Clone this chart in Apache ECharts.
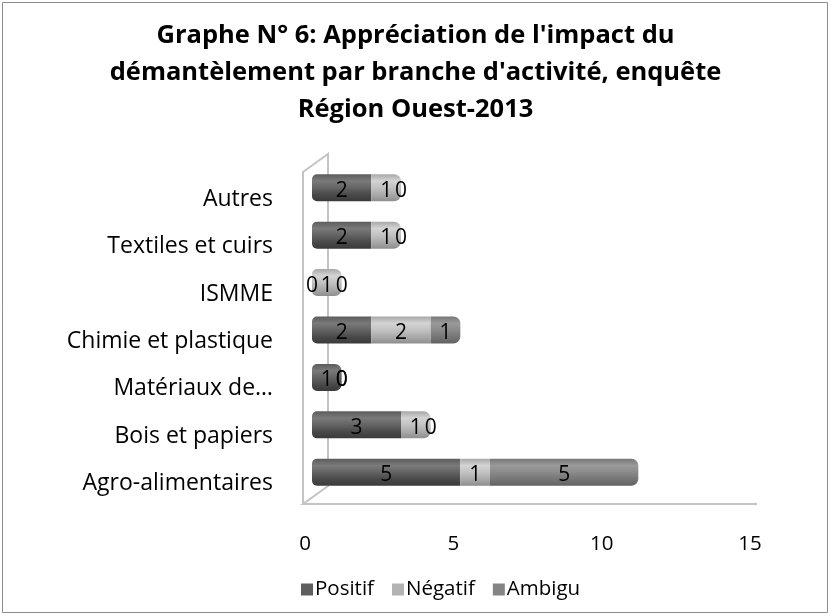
<!DOCTYPE html>
<html>
<head>
<meta charset="utf-8">
<script src="https://cdn.jsdelivr.net/npm/echarts@6/dist/echarts.min.js"></script>
<style>
  html, body { margin: 0; padding: 0; background: #fff; }
  #main { width: 831px; height: 616px; }
</style>
</head>
<body>
<div id="main"></div>
<script>
// branches, from bottom to top
const categories = ['Agro-alimentaires', 'Bois et papiers', 'Matériaux de…', 'Chimie et plastique', 'ISMME', 'Textiles et cuirs', 'Autres'];
const positif = [5, 3, 1, 2, 0, 2, 2];
const negatif = [1, 1, 0, 2, 1, 1, 1];
const ambigu = [5, 0, 0, 1, 0, 0, 0];
const seriesNames = ['Positif', 'Négatif', 'Ambigu'];
const xTicks = [0, 5, 10, 15];

const FONT = 'Open Sans';

// cylinder shading
function cyl(stops) {
  return {
    type: 'linear', x: 0, y: 0, x2: 0, y2: 1,
    colorStops: stops.map((c, i) => ({ offset: i / (stops.length - 1), color: c }))
  };
}
const fills = [
  cyl(['#5c5c5c', '#7a7a7a', '#646464', '#4a4a4a', '#3a3a3a']),
  cyl(['#a8a8a8', '#d4d4d4', '#c2c2c2', '#aaaaaa', '#8e8e8e']),
  cyl(['#777777', '#9a9a9a', '#8a8a8a', '#767676', '#626262'])
];
const legendColors = ['#5e5e5e', '#b3b3b3', '#848484'];

const allData = [positif, negatif, ambigu];

// last non-zero segment gets the rounded end cap
function lastIdx(ci) {
  let last = -1;
  allData.forEach((arr, si) => { if (arr[ci] > 0) last = si; });
  return last;
}
function firstIdx(ci) {
  for (let si = 0; si < allData.length; si++) if (allData[si][ci] > 0) return si;
  return -1;
}

const series = allData.map((arr, si) => ({
  name: seriesNames[si],
  type: 'bar',
  stack: 'total',
  barWidth: 27,
  data: arr.map((v, ci) => {
    const r = [0, 0, 0, 0];
    if (firstIdx(ci) === si) { r[0] = 5; r[3] = 5; }
    if (lastIdx(ci) === si) { r[1] = 7; r[2] = 7; }
    return { value: v, itemStyle: { borderRadius: r } };
  }),
  itemStyle: { color: fills[si] },
  label: {
    show: true,
    position: 'inside',
    color: '#000',
    fontFamily: FONT,
    fontSize: 21,
    offset: [0, 3],
    formatter: '{c}'
  },
  emphasis: { disabled: true }
}));

const chart = echarts.init(document.getElementById('main'));
chart.setOption({
  animation: false,
  backgroundColor: '#fff',
  title: {
    text: "Graphe N° 6: Appréciation de l'impact du\ndémantèlement par branche d'activité, enquête\nRégion Ouest-2013",
    left: 'center',
    top: 12,
    textStyle: { fontFamily: FONT, fontSize: 25.5, fontWeight: 'bold', color: '#000', lineHeight: 37 }
  },
  legend: {
    bottom: 11,
    left: 296,
    itemWidth: 12,
    itemHeight: 12,
    itemGap: 18,
    icon: 'rect',
    textStyle: { fontFamily: FONT, fontSize: 20.5, color: '#000', padding: [0, 0, 0, -3] },
    data: seriesNames.map((n, i) => ({ name: n, itemStyle: { color: legendColors[i] } }))
  },
  grid: { left: 312, right: 74, top: 164, bottom: 120 },
  xAxis: {
    type: 'value',
    min: xTicks[0],
    max: xTicks[xTicks.length - 1],
    interval: 5,
    offset: 8,
    axisLine: { show: false },
    axisTick: { show: false },
    splitLine: { show: false },
    axisLabel: { fontFamily: FONT, fontSize: 20.5, color: '#000', margin: 30, padding: [0, 14, 0, 0] }
  },
  yAxis: {
    type: 'category',
    data: categories,
    axisLine: { show: false },
    axisTick: { show: false },
    axisLabel: { fontFamily: FONT, fontSize: 23, color: '#000', margin: 39, verticalAlign: 'top' }
  },
  series: series
});

// 3D wall outline and outer frame (decoration, placed from the grid)
const p0 = chart.convertToPixel({ gridIndex: 0 }, [0, 0]);
const pTop = chart.convertToPixel({ gridIndex: 0 }, [0, categories.length - 1]);
const pEnd = chart.convertToPixel({ gridIndex: 0 }, [xTicks[xTicks.length - 1], 0]);
const band = (p0[1] - pTop[1]) / (categories.length - 1);
const bottomY = p0[1] + band / 2 + 8;
const topY = pTop[1] - band / 2 + 8;
const fx = p0[0] - 9, bx = p0[0] + 16, d = 18;
const wall = { stroke: '#c4c4c4', lineWidth: 2, fill: null };
chart.setOption({
  graphic: [
    { type: 'rect', shape: { x: 2.5, y: 2.5, width: 825, height: 610 }, style: { fill: null, stroke: '#8c8c8c', lineWidth: 1 }, silent: true },
    { type: 'polyline', z: -1, shape: { points: [[fx, bottomY], [fx, topY], [bx, topY - d], [bx, bottomY - d], [fx, bottomY], [pEnd[0], bottomY]] }, style: wall, silent: true }
  ]
});
</script>
</body>
</html>
